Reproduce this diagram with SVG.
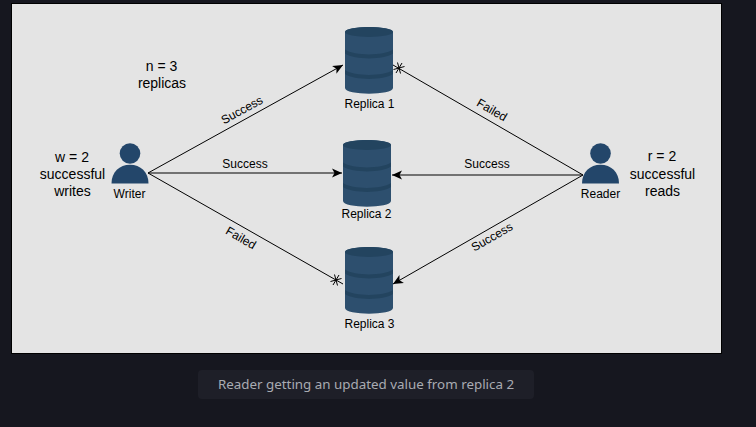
<svg xmlns="http://www.w3.org/2000/svg" width="756" height="427" viewBox="0 0 756 427">
<style>
text{font-family:"Liberation Sans",Arial,sans-serif;fill:#000;text-anchor:middle}
.s{font-size:12px}
.b{font-size:14px}
.c{stroke:#000;stroke-width:1;fill:none}
.body{fill:#2d4f6e}
.top{fill:#23445f}
.p{fill:#23466a}
</style>
<defs>
<marker id="a" markerUnits="userSpaceOnUse" markerWidth="12" markerHeight="10" refX="10" refY="5" orient="auto"><path d="M0 0.500L10 5L0 9.500L2.500 5Z" fill="#000"/></marker>
<path id="star" class="c" d="M-5.500 1.500L5.500 -1.500M-1.500 -5.500L1.500 5.500M3 -5L-3 5"/>
<g id="db">
<path class="body" d="M0 5C0 -1.700 48 -1.700 48 5V61C48 68.500 0 68.500 0 61Z"/>
<ellipse class="top" cx="24" cy="5" rx="24" ry="5"/>
<path class="top" d="M0 22.500C10 29 38 29 48 22.500V26.500C38 33 10 33 0 26.500Z"/>
<path class="top" d="M0 43C10 49.500 38 49.500 48 43V47C38 53.500 10 53.500 0 47Z"/>
</g>
<g id="person">
<circle class="p" cx="18.500" cy="10.500" r="10.300"/>
<path class="p" d="M0 40.500C0 29 8 21.800 18.500 21.800S37 29 37 40.500Z"/>
</g>
</defs>
<rect width="756" height="427" fill="#16171f"/>
<rect x="11.500" y="3.500" width="710" height="350" fill="#e4e4e4" stroke="#000"/>
<g id="connectors">
<path class="c" d="M148 173L343 65" marker-end="url(#a)"/>
<path class="c" d="M148 173L342 173" marker-end="url(#a)"/>
<path class="c" d="M148 173L343 284"/>
<path class="c" d="M583 175L393 65"/>
<path class="c" d="M583 175L392 175" marker-end="url(#a)"/>
<path class="c" d="M583 175L393 284" marker-end="url(#a)"/>
<use href="#star" transform="translate(399 68)"/>
<use href="#star" transform="translate(336 280)"/>
</g>
<g id="replica1"><use href="#db" x="345" y="27"/><text class="s" x="369.500" y="108">Replica 1</text></g>
<g id="replica2"><use href="#db" x="343" y="140"/><text class="s" x="366.500" y="218">Replica 2</text></g>
<g id="replica3"><use href="#db" x="345" y="247"/><text class="s" x="369.500" y="328">Replica 3</text></g>
<g id="writer"><use href="#person" x="111.500" y="143"/><text class="s" x="129.500" y="198">Writer</text></g>
<g id="reader"><use href="#person" x="582" y="143"/><text class="s" x="600.500" y="198">Reader</text></g>
<g id="labels">
<text class="b"><tspan x="161.500" y="71">n = 3</tspan><tspan x="162" y="88">replicas</tspan></text>
<text class="b"><tspan x="72" y="162">w = 2</tspan><tspan x="72.500" y="179">successful</tspan><tspan x="72.500" y="196">writes</tspan></text>
<text class="b"><tspan x="662" y="161">r = 2</tspan><tspan x="662.500" y="179">successful</tspan><tspan x="662.500" y="196">reads</tspan></text>
<text class="s" transform="translate(242 110) rotate(-29)" y="4">Success</text>
<text class="s" x="245" y="168">Success</text>
<text class="s" transform="translate(241 238) rotate(30)" y="4">Failed</text>
<text class="s" transform="translate(492 110) rotate(30)" y="4">Failed</text>
<text class="s" x="487" y="168">Success</text>
<text class="s" transform="translate(492 237) rotate(-30)" y="4">Success</text>
</g>
<g id="caption">
<rect x="198" y="370" width="336" height="29" rx="4" fill="#1e1f28"/>
<text x="366" y="389" style="font-family:'Noto Sans',sans-serif;font-size:13.360px;fill:#a9abb2">Reader getting an updated value from replica 2</text>
</g>
</svg>
